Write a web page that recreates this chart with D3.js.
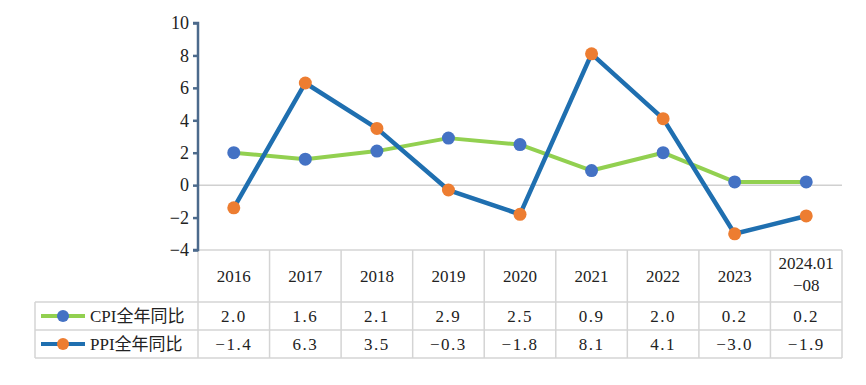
<!DOCTYPE html>
<html>
<head>
<meta charset="utf-8">
<script src="https://cdn.jsdelivr.net/npm/d3@7"></script>
<style>
  body { margin: 0; background: #fff; }
  text { font-family: "Liberation Serif", "Noto Sans CJK SC", serif; }
</style>
</head>
<body>
<div id="chart"></div>
<script>
const years = ['2016', '2017', '2018', '2019', '2020', '2021', '2022', '2023', '2024.01|-08']
const cpi = [2.0, 1.6, 2.1, 2.9, 2.5, 0.9, 2.0, 0.2, 0.2]
const ppi = [-1.4, 6.3, 3.5, -0.3, -1.8, 8.1, 4.1, -3.0, -1.9]
const yTicks = [-4, -2, 0, 2, 4, 6, 8, 10]
const seriesNames = ['CPI全年同比', 'PPI全年同比']

const width = 866
const height = 385
const marginLeft = 198
const marginRight = 24
const marginTop = 23
const plotBottom = 250
const headerH = 52
const rowH = 28
const legendLeft = 35

const svg = d3.select('#chart')
              .append('svg')
              .attr('width', width)
              .attr('height', height)

const x = d3.scaleBand()
            .domain(years)
            .range([marginLeft, width - marginRight])

const y = d3.scaleLinear()
            .domain([-4, 10])
            .range([plotBottom, marginTop])

// zero line
svg.append('line')
   .attr('x1', marginLeft).attr('x2', width - marginRight)
   .attr('y1', y(0)).attr('y2', y(0))
   .attr('stroke', '#d0d0d0').attr('stroke-width', 1.5)

// table grid
const tableColor = '#d4d4d4'
const tableBottom = plotBottom + headerH + rowH * 2
const g = svg.append('g').attr('stroke', tableColor).attr('stroke-width', 1.5)
g.append('line').attr('x1', marginLeft).attr('x2', width - marginRight).attr('y1', plotBottom).attr('y2', plotBottom)
;[plotBottom + headerH, plotBottom + headerH + rowH, tableBottom].forEach(yy => {
  g.append('line').attr('x1', legendLeft).attr('x2', width - marginRight).attr('y1', yy).attr('y2', yy)
})
years.forEach(d => {
  g.append('line').attr('x1', x(d) + x.bandwidth()).attr('x2', x(d) + x.bandwidth())
   .attr('y1', plotBottom).attr('y2', tableBottom)
})
g.append('line').attr('x1', legendLeft).attr('x2', legendLeft).attr('y1', plotBottom + headerH).attr('y2', tableBottom)
g.append('line').attr('x1', marginLeft).attr('x2', marginLeft).attr('y1', plotBottom).attr('y2', tableBottom)

// y axis
const yAxis = svg.append('g')
   .attr('transform', `translate(${marginLeft}, 0)`)
   .call(d3.axisLeft(y).tickValues(yTicks).tickSize(5).tickPadding(4).tickFormat(d => d < 0 ? '\u2212' + Math.abs(d) : d))
yAxis.selectAll('path, line').attr('stroke', '#4c6a8c').attr('stroke-width', 2.5)
yAxis.select('.domain').attr('d', `M-5,${y(10)}H0V${y(-4)}H-5`)
yAxis.selectAll('text').attr('fill', '#222').attr('font-size', 18).attr('font-family', 'Liberation Serif')

// header labels
years.forEach(d => {
  const parts = d.split('|')
  const cx = x(d) + x.bandwidth() / 2
  const t = svg.append('text')
     .attr('x', cx)
     .attr('text-anchor', 'middle')
     .attr('font-size', 17)
     .attr('fill', '#222')
  if (parts.length === 1) {
    t.attr('y', plotBottom + headerH / 2 + 6).text(parts[0])
  } else {
    t.append('tspan').attr('x', cx).attr('y', plotBottom + 19).text(parts[0])
    t.append('tspan').attr('x', cx).attr('y', plotBottom + 41).text(parts[1].replace('-', '\u2212'))
  }
})

const colors = [
  { line: '#92d050', dot: '#4472c4' },
  { line: '#1f6fb0', dot: '#ed7d31' }
]
const series = [cpi, ppi]

// table values + legend
series.forEach((s, i) => {
  const rowY = plotBottom + headerH + rowH * i + rowH / 2
  s.forEach((v, j) => {
    svg.append('text')
       .attr('x', x(years[j]) + x.bandwidth() / 2)
       .attr('y', rowY + 6)
       .attr('text-anchor', 'middle')
       .attr('font-size', 17)
       .attr('letter-spacing', 1.5)
       .attr('fill', '#222')
       .text((v < 0 ? '\u2212' : '') + Math.abs(v).toFixed(1))
  })
  svg.append('line')
     .attr('x1', legendLeft + 6).attr('x2', legendLeft + 50)
     .attr('y1', rowY).attr('y2', rowY)
     .attr('stroke', colors[i].line).attr('stroke-width', 4)
  svg.append('circle')
     .attr('cx', legendLeft + 28).attr('cy', rowY).attr('r', 6)
     .attr('fill', colors[i].dot)
  svg.append('text')
     .attr('x', legendLeft + 55).attr('y', rowY + 6)
     .attr('font-size', 17)
     .attr('fill', '#222')
     .attr('font-family', '"Noto Sans CJK SC", sans-serif')
     .text(seriesNames[i])
})

// lines and dots
const line = d3.line()
               .x((d, i) => x(years[i]) + x.bandwidth() / 2)
               .y(d => y(d))

series.forEach((s, i) => {
  svg.append('path')
     .datum(s)
     .attr('d', line)
     .attr('fill', 'none')
     .attr('stroke', colors[i].line)
     .attr('stroke-width', i === 0 ? 4 : 4.5)
     .attr('stroke-linejoin', 'round')
})
series.forEach((s, i) => {
  svg.selectAll('.dot' + i)
     .data(s)
     .enter().append('circle')
     .attr('class', 'dot' + i)
     .attr('cx', (d, j) => x(years[j]) + x.bandwidth() / 2)
     .attr('cy', d => y(d))
     .attr('r', 6.5)
     .attr('fill', colors[i].dot)
})
</script>
</body>
</html>
